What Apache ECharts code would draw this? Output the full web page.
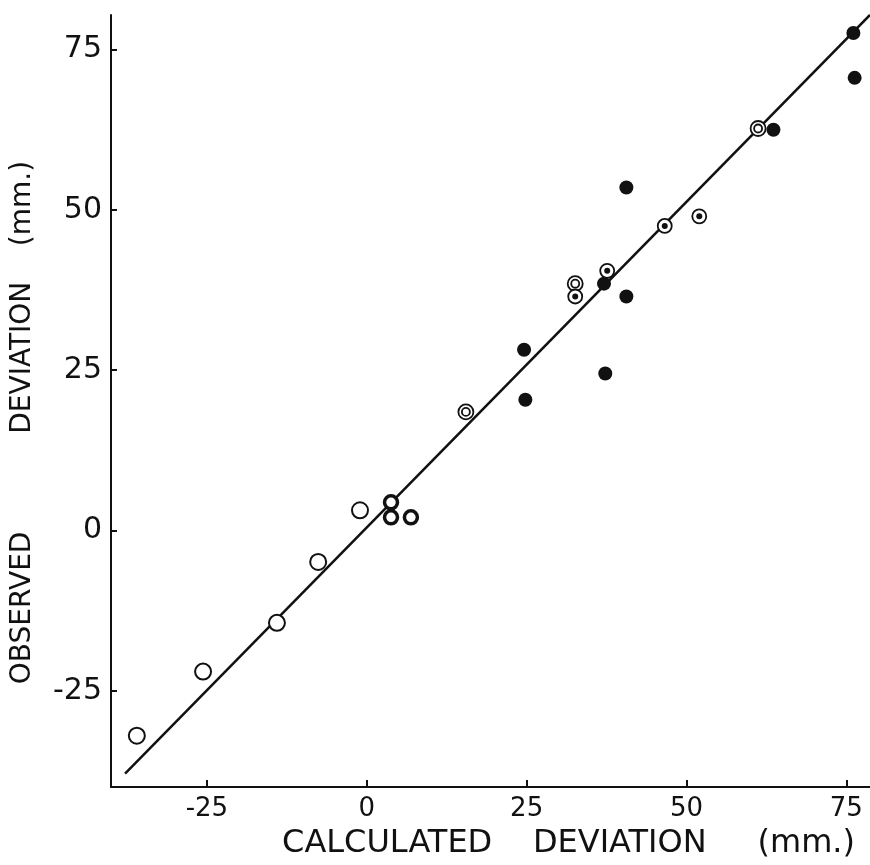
<!DOCTYPE html>
<html>
<head>
<meta charset="utf-8">
<script src="https://cdn.jsdelivr.net/npm/echarts@6/dist/echarts.min.js"></script>
<style>html,body{margin:0;padding:0;background:#fff}#c{width:870px;height:865px}</style>
</head>
<body>
<div id="c"></div>
<script>
// Tick values
var tickValues = [-25, 0, 25, 50, 75];
// Open circles (thin ring)
var openCircles = [[-35.96, -32.0], [-25.6, -22.0], [-14.05, -14.4], [-7.6, -4.9], [-1.06, 3.15]];
// Bold open circles (thick ring)
var boldCircles = [[3.79, 4.4], [3.79, 2.06], [6.9, 2.06]];
// Double rings
var doubleRings = [[15.5, 18.5], [32.6, 38.5], [61.2, 62.7]];
// Rings with black centre
var dotRings = [[32.6, 36.5], [37.6, 40.5], [46.6, 47.5], [52.0, 49.0]];
// Filled circles
var filledCircles = [[24.6, 28.2], [24.8, 20.4], [37.1, 38.5], [40.6, 36.5], [37.3, 24.5], [40.6, 53.5], [63.6, 62.5], [76.1, 77.6], [76.3, 70.6]];
// Fitted line
var fitLine = [[-37.8, -37.9], [78.7, 80.4]];

var FONT = 'DejaVu Sans';
var INK = '#111';
var chart = echarts.init(document.getElementById('c'), null, {renderer: 'canvas'});
chart.setOption({
  backgroundColor: '#fff',
  animation: false,
  grid: {left: 111, right: 0, top: 15, bottom: 76, containLabel: false},
  xAxis: {
    type: 'value', min: -40, max: 78.7,
    name: 'CALCULATED    DEVIATION     (mm.)',
    nameLocation: 'middle', nameGap: 41,
    nameTextStyle: {fontFamily: FONT, fontSize: 32, color: INK, padding: [0, 0, 0, 156]},
    axisLine: {show: true, onZero: false, lineStyle: {color: INK, width: 2}},
    axisTick: {show: true, inside: true, length: 7, customValues: tickValues, lineStyle: {color: INK, width: 2}},
    axisLabel: {customValues: tickValues, margin: 9, fontFamily: FONT, fontSize: 26, color: INK},
    splitLine: {show: false}
  },
  yAxis: {
    type: 'value', min: -40, max: 80.4,
    name: 'OBSERVED           DEVIATION    (mm.)',
    nameLocation: 'middle', nameGap: 74, nameRotate: 90,
    nameTextStyle: {fontFamily: FONT, fontSize: 28, color: INK, padding: [0, 43, 0, 0]},
    axisLine: {show: true, onZero: false, lineStyle: {color: INK, width: 2}},
    axisTick: {show: true, inside: true, length: 6, customValues: tickValues, lineStyle: {color: INK, width: 2}},
    axisLabel: {customValues: tickValues, margin: 9, fontFamily: FONT, fontSize: 30, color: INK},
    splitLine: {show: false}
  },
  series: [
    {type: 'line', data: fitLine, symbol: 'none', lineStyle: {color: INK, width: 2.5}, z: 1},
    {type: 'scatter', data: openCircles, symbol: 'circle', symbolSize: 16,
      itemStyle: {color: '#fff', borderColor: INK, borderWidth: 2, opacity: 1}, z: 3},
    {type: 'scatter', data: boldCircles, symbol: 'circle', symbolSize: 13,
      itemStyle: {color: '#fff', borderColor: INK, borderWidth: 3.5, opacity: 1}, z: 3},
    {type: 'scatter', data: doubleRings, symbol: 'circle', symbolSize: 15,
      itemStyle: {color: '#fff', borderColor: INK, borderWidth: 1.8, opacity: 1}, z: 3},
    {type: 'scatter', data: doubleRings, symbol: 'circle', symbolSize: 8,
      itemStyle: {color: '#fff', borderColor: INK, borderWidth: 1.8, opacity: 1}, z: 4},
    {type: 'scatter', data: dotRings, symbol: 'circle', symbolSize: 14,
      itemStyle: {color: '#fff', borderColor: INK, borderWidth: 1.8, opacity: 1}, z: 3},
    {type: 'scatter', data: dotRings, symbol: 'circle', symbolSize: 6,
      itemStyle: {color: INK, opacity: 1}, z: 4},
    {type: 'scatter', data: filledCircles, symbol: 'circle', symbolSize: 14,
      itemStyle: {color: INK, opacity: 1}, z: 3}
  ]
});
</script>
</body>
</html>
